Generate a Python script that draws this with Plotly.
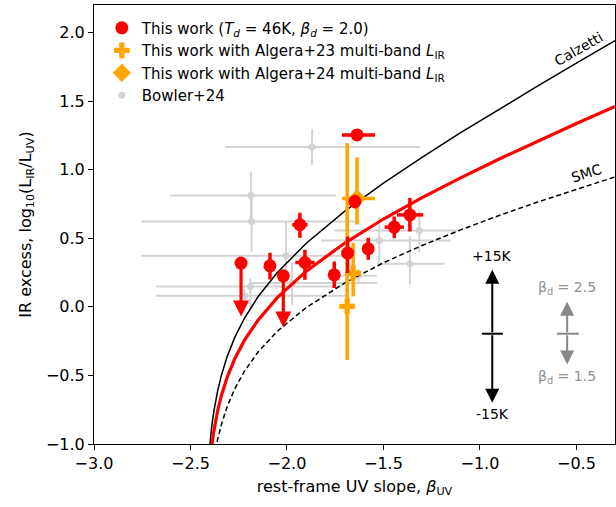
import plotly.graph_objects as go

# ---------------- data ----------------
# Model curves (IRX vs beta)
calz_beta = [-2.405, -2.40, -2.39, -2.38, -2.36, -2.34, -2.31, -2.27, -2.22, -2.15, -2.05,
             -1.90, -1.70, -1.50, -1.30, -1.10, -0.90, -0.70, -0.50, -0.30]
calz_irx = [-1.084, -1.002, -0.873, -0.772, -0.618, -0.500, -0.363, -0.221, -0.082, 0.073, 0.250,
            0.463, 0.697, 0.902, 1.090, 1.269, 1.442, 1.610, 1.776, 1.941]
red_beta = [-2.395, -2.39, -2.38, -2.36, -2.34, -2.31, -2.27, -2.22, -2.15, -2.05,
            -1.90, -1.70, -1.50, -1.30, -1.10, -0.90, -0.70, -0.50, -0.30]
red_irx = [-1.074, -1.014, -0.915, -0.763, -0.648, -0.514, -0.376, -0.243, -0.097, 0.067,
           0.260, 0.465, 0.640, 0.796, 0.940, 1.077, 1.209, 1.336, 1.461]
smc_beta = [-2.37, -2.36, -2.34, -2.31, -2.27, -2.22, -2.15, -2.05,
            -1.90, -1.70, -1.50, -1.30, -1.10, -0.90, -0.70, -0.50, -0.30]
smc_irx = [-1.041, -0.971, -0.859, -0.728, -0.596, -0.469, -0.330, -0.178,
           -0.005, 0.174, 0.321, 0.447, 0.561, 0.666, 0.764, 0.858, 0.947]

# This work (detections)
tw_beta = [-2.088, -1.933, -1.907, -1.755, -1.686, -1.648, -1.579, -1.444, -1.363, -1.637]
tw_irx = [0.299, 0.598, 0.323, 0.233, 0.392, 0.767, 0.423, 0.581, 0.670, 1.253]
tw_xm = [0.02, 0.04, 0.05, 0.02, 0.02, 0.03, 0.02, 0.05, 0.067, 0.078]
tw_xp = [0.02, 0.04, 0.05, 0.02, 0.02, 0.03, 0.02, 0.05, 0.069, 0.093]
tw_ym = [0.10, 0.095, 0.126, 0.096, 0.146, 0.05, 0.08, 0.081, 0.121, 0.0]
tw_yp = [0.095, 0.087, 0.093, 0.097, 0.12, 0.05, 0.08, 0.077, 0.124, 0.0]

# This work (upper limits)
ul_beta = [-2.238, -2.019]
ul_irx = [0.319, 0.226]
ul_tip = [-0.07, -0.15]

# Algera+23 multi-band
a23_beta = [-1.688, -1.657]
a23_irx = [0.003, 0.246]
a23_xm = [0.0, 0.04]
a23_xp = [0.0, 0.04]
a23_ym = [0.39, 0.17]
a23_yp = [1.19, 0.22]

# Algera+24 multi-band
a24_beta = [-1.637]
a24_irx = [0.79]
a24_xm = [0.078]
a24_xp = [0.093]
a24_ym = [0.19]
a24_yp = [0.30]

# Bowler+24
bw_beta = [-1.87, -2.187, -2.183, -2.005, -2.19, -2.22, -1.973, -1.63, -1.522, -1.314, -1.363]
bw_irx = [1.165, 0.811, 0.622, 0.372, 0.148, 0.08, 0.173, 0.226, 0.484, 0.556, 0.314]
bw_xm = [0.45, 0.42, 0.57, 0.75, 0.49, 0.46, 0.21, 0.15, 0.30, 0.44, 0.17]
bw_xp = [0.56, 0.44, 0.56, 0.30, 0.48, 0.54, 0.44, 0.095, 0.37, 0.21, 0.18]
bw_ym = [0.13, 0.19, 0.22, 0.175, 0.16, 0.05, 0.16, 0.05, 0.19, 0.16, 0.15]
bw_yp = [0.13, 0.17, 0.19, 0.25, 0.06, 0.05, 0.15, 0.05, 0.17, 0.15, 0.20]

# Right-hand arrow annotations
td_x = -0.936
td_center, td_up, td_down = -0.196, 0.27, -0.70
td_tick = [-0.990, -0.881]
td_labels = ["+15K", "-15K"]
td_label_y = [0.367, -0.779]
bd_x = -0.548
bd_center, bd_up, bd_down = -0.196, 0.037, -0.42
bd_tick = [-0.601, -0.487]
bd_labels = ["β<sub>d</sub> = 2.5", "β<sub>d</sub> = 1.5"]
bd_label_y = [0.139, -0.51]

FONT = "DejaVu Sans"
RED = "#ff0000"
ORANGE = "#ffa500"
GRAY = "#d3d3d3"

fig = go.Figure()

# Bowler+24
fig.add_trace(go.Scatter(
    x=bw_beta, y=bw_irx, mode="markers", name="Bowler+24",
    marker=dict(symbol="circle", size=7, color=GRAY),
    error_x=dict(type="data", array=bw_xp, arrayminus=bw_xm, color=GRAY, thickness=2, width=0),
    error_y=dict(type="data", array=bw_yp, arrayminus=bw_ym, color=GRAY, thickness=2, width=0),
    legendgroup="bw", legendrank=4))

# curves
fig.add_trace(go.Scatter(x=calz_beta, y=calz_irx, mode="lines", line=dict(color="black", width=1.5),
                         showlegend=False, hoverinfo="skip"))
fig.add_trace(go.Scatter(x=smc_beta, y=smc_irx, mode="lines", line=dict(color="black", width=1.5, dash="5px,3px"),
                         showlegend=False, hoverinfo="skip"))
fig.add_trace(go.Scatter(x=red_beta, y=red_irx, mode="lines", line=dict(color=RED, width=3.2),
                         showlegend=False, hoverinfo="skip"))

# Algera+23
fig.add_trace(go.Scatter(
    x=a23_beta, y=a23_irx, mode="markers",
    name="This work with Algera+23 multi-band <i>L</i><sub>IR</sub>",
    marker=dict(symbol="cross", size=13, color=ORANGE),
    error_x=dict(type="data", array=a23_xp, arrayminus=a23_xm, color=ORANGE, thickness=3.5, width=0),
    error_y=dict(type="data", array=a23_yp, arrayminus=a23_ym, color=ORANGE, thickness=3.5, width=0),
    legendgroup="a23", legendrank=2))
# Algera+24
fig.add_trace(go.Scatter(
    x=a24_beta, y=a24_irx, mode="markers",
    name="This work with Algera+24 multi-band <i>L</i><sub>IR</sub>",
    marker=dict(symbol="diamond", size=14, color=ORANGE),
    error_x=dict(type="data", array=a24_xp, arrayminus=a24_xm, color=ORANGE, thickness=3.5, width=0),
    error_y=dict(type="data", array=a24_yp, arrayminus=a24_ym, color=ORANGE, thickness=3.5, width=0),
    legendgroup="a24", legendrank=3))

# This work detections
fig.add_trace(go.Scatter(
    x=tw_beta, y=tw_irx, mode="markers",
    name="This work (<i>T<sub>d</sub></i> = 46K, <i>β<sub>d</sub></i> = 2.0)",
    marker=dict(symbol="circle", size=13, color=RED),
    error_x=dict(type="data", array=tw_xp, arrayminus=tw_xm, color=RED, thickness=3.5, width=0),
    error_y=dict(type="data", array=tw_yp, arrayminus=tw_ym, color=RED, thickness=3.5, width=0),
    legendgroup="tw", legendrank=1))
# upper limits markers
fig.add_trace(go.Scatter(x=ul_beta, y=ul_irx, mode="markers",
                         marker=dict(symbol="circle", size=13, color=RED),
                         showlegend=False, hoverinfo="skip"))

annotations = []
for b, y0, y1 in zip(ul_beta, ul_irx, ul_tip):
    annotations.append(dict(x=b, y=y1, ax=b, ay=y0, xref="x", yref="y", axref="x", ayref="y",
                            showarrow=True, arrowhead=2, arrowsize=1.0, arrowwidth=3.2,
                            arrowcolor=RED, text=""))

# temperature arrows
for tip in (td_up, td_down):
    annotations.append(dict(x=td_x, y=tip, ax=td_x, ay=td_center, xref="x", yref="y", axref="x", ayref="y",
                            showarrow=True, arrowhead=2, arrowsize=1.4, arrowwidth=2,
                            arrowcolor="black", text=""))
for lab, ly in zip(td_labels, td_label_y):
    annotations.append(dict(x=td_x, y=ly, xref="x", yref="y", text=lab, showarrow=False,
                            font=dict(family=FONT, size=14, color="black")))
for tip in (bd_up, bd_down):
    annotations.append(dict(x=bd_x, y=tip, ax=bd_x, ay=bd_center, xref="x", yref="y", axref="x", ayref="y",
                            showarrow=True, arrowhead=2, arrowsize=1.4, arrowwidth=2,
                            arrowcolor="#888888", text=""))
for lab, ly in zip(bd_labels, bd_label_y):
    annotations.append(dict(x=bd_x, y=ly, xref="x", yref="y", text=lab, showarrow=False,
                            font=dict(family=FONT, size=14, color="#909090")))

# curve labels
annotations.append(dict(x=-0.49, y=1.88, xref="x", yref="y", text="Calzetti", showarrow=False,
                        textangle=-30, font=dict(family=FONT, size=14, color="black")))
annotations.append(dict(x=-0.446, y=0.975, xref="x", yref="y", text="SMC", showarrow=False,
                        textangle=-18, font=dict(family=FONT, size=14, color="black")))

shapes = [
    dict(type="line", xref="x", yref="y", x0=td_tick[0], x1=td_tick[1], y0=td_center, y1=td_center,
         line=dict(color="black", width=2)),
    dict(type="line", xref="x", yref="y", x0=bd_tick[0], x1=bd_tick[1], y0=bd_center, y1=bd_center,
         line=dict(color="#888888", width=2)),
]

fig.update_layout(
    width=616, height=507,
    margin=dict(l=94, r=1, t=5, b=63),
    paper_bgcolor="white", plot_bgcolor="white",
    font=dict(family=FONT, size=16, color="black"),
    showlegend=True,
    legend=dict(x=0.015, y=0.985, xanchor="left", yanchor="top",
                font=dict(family=FONT, size=15), bgcolor="rgba(255,255,255,0.8)",
                traceorder="grouped", tracegroupgap=0, itemsizing="trace"),
    annotations=annotations, shapes=shapes,
    xaxis=dict(range=[-3.0, -0.3], tickvals=[-3.0, -2.5, -2.0, -1.5, -1.0, -0.5],
               ticktext=["−3.0", "−2.5", "−2.0", "−1.5", "−1.0", "−0.5"],
               showgrid=False, zeroline=False, showline=True, mirror=True, linecolor="black", linewidth=1,
               ticks="outside", ticklen=5, tickwidth=1, tickcolor="black",
               tickfont=dict(family=FONT, size=16),
               title=dict(text="rest-frame UV slope, <i>β</i><sub>UV</sub>", font=dict(family=FONT, size=16), standoff=8)),
    yaxis=dict(range=[-1.0, 2.2], tickvals=[-1.0, -0.5, 0.0, 0.5, 1.0, 1.5, 2.0],
               ticktext=["−1.0", "−0.5", "0.0", "0.5", "1.0", "1.5", "2.0"],
               showgrid=False, zeroline=False, showline=True, mirror=True, linecolor="black", linewidth=1,
               ticks="outside", ticklen=5, tickwidth=1, tickcolor="black",
               tickfont=dict(family=FONT, size=16),
               title=dict(text="IR excess, log<sub>10</sub>(L<sub>IR</sub>/L<sub>UV</sub>)", font=dict(family=FONT, size=16), standoff=10)),
)

fig.write_html("out.html")
